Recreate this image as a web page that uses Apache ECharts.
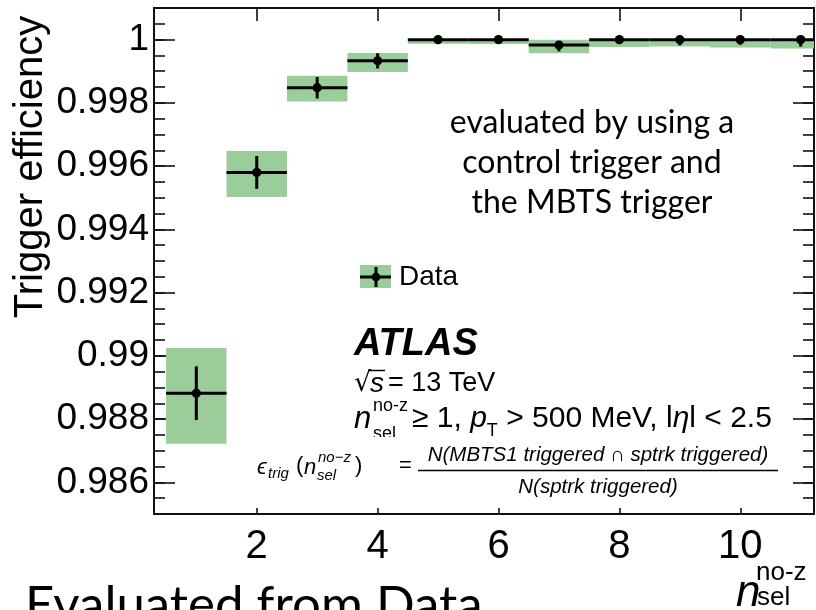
<!DOCTYPE html>
<html>
<head>
<meta charset="utf-8">
<script src="https://cdn.jsdelivr.net/npm/echarts@6/dist/echarts.min.js"></script>
<style>
  html, body { margin: 0; padding: 0; background: #fff; }
  #chart { width: 816px; height: 610px; }
</style>
</head>
<body>
<div id="chart"></div>
<script>
// Trigger efficiency vs number of selected tracks (no z requirement)
const nSel = [1, 2, 3, 4, 5, 6, 7, 8, 9, 10, 11];
const binLow = [0.5, 1.5, 2.5, 3.5, 4.5, 5.5, 6.5, 7.5, 8.5, 9.5, 10.5];
const binHigh = [1.5, 2.5, 3.5, 4.5, 5.5, 6.5, 7.5, 8.5, 9.5, 10.5, 11.5];
const efficiency = [0.98882, 0.99580, 0.99848, 0.99933, 1.00000, 1.00000, 0.99983, 1.00000, 1.00000, 1.00000, 1.00000];
const statErrDown = [0.00085, 0.00052, 0.00034, 0.00024, 0.00003, 0.00003, 0.00020, 0.00012, 0.00018, 0.00016, 0.00022];
const statErrUp = [0.00085, 0.00052, 0.00034, 0.00024, 0.00000, 0.00000, 0.00008, 0.00000, 0.00000, 0.00000, 0.00000];
const systLow = [0.98722, 0.99502, 0.99804, 0.99898, 0.99987, 0.99986, 0.99957, 0.99977, 0.99978, 0.99975, 0.99972];
const systHigh = [0.99025, 0.99648, 0.998855, 0.99958, 1.00002, 1.00002, 1.00000, 1.00001, 1.00001, 1.00001, 1.00001];

const xMajorTicks = [2, 4, 6, 8, 10];
const yMajorTicks = [0.986, 0.988, 0.99, 0.992, 0.994, 0.996, 0.998, 1];
const yMinorTicks = [];
for (let k = 0; k <= 31; k++) yMinorTicks.push(+(0.985 + k * 0.0005).toFixed(4));

const GREEN = '#9acd9a';
const BLACK = '#000';
const SANS = '"Liberation Sans", Arial, sans-serif';
const HUMANIST = 'Lato, "Open Sans", sans-serif';

const chart = echarts.init(document.getElementById('chart'), null, { renderer: 'canvas' });

const frameLine = { show: true, lineStyle: { color: '#111', width: 2 } };

function yAxisDef(position, ticks, len, labels) {
  return {
    type: 'value', position: position, min: 0.985, max: 1.001,
    axisLine: frameLine,
    splitLine: { show: false },
    axisTick: { show: true, inside: true, length: len, customValues: ticks, lineStyle: { color: '#111', width: 1.6 } },
    axisLabel: labels ? {
      show: true, customValues: yMajorTicks, margin: 5, color: BLACK,
      fontFamily: SANS, fontSize: 37,
      formatter: v => String(+(+v).toFixed(3))
    } : { show: false }
  };
}

function xAxisDef(position, len, labels) {
  return {
    type: 'value', position: position, min: 0.3, max: 11.22,
    axisLine: frameLine,
    splitLine: { show: false },
    axisTick: { show: true, inside: true, length: len, customValues: xMajorTicks, lineStyle: { color: '#111', width: 1.6 } },
    axisLabel: labels ? {
      show: true, customValues: xMajorTicks, margin: 13, color: BLACK,
      fontFamily: SANS, fontSize: 40
    } : { show: false }
  };
}

const boxData = nSel.map((x, i) => [binLow[i], binHigh[i], systLow[i], systHigh[i]]);
const pointData = nSel.map((x, i) => [x, efficiency[i], binLow[i], binHigh[i], statErrDown[i], statErrUp[i]]);

function renderBox(params, api) {
  const cs = params.coordSys;
  const p0 = api.coord([api.value(0), api.value(3)]);
  const p1 = api.coord([api.value(1), api.value(2)]);
  const x0 = Math.max(p0[0], cs.x), x1 = Math.min(p1[0], cs.x + cs.width);
  return {
    type: 'rect',
    shape: { x: x0, y: p0[1], width: x1 - x0, height: p1[1] - p0[1] },
    style: { fill: GREEN }
  };
}

function renderPoint(params, api) {
  const cs = params.coordSys;
  const x = api.value(0), y = api.value(1);
  const c = api.coord([x, y]);
  const l = api.coord([api.value(2), y]);
  const r = api.coord([api.value(3), y]);
  const lo = api.coord([x, y - api.value(4)]);
  const hi = api.coord([x, y + api.value(5)]);
  const lineStyle = { stroke: BLACK, lineWidth: 3 };
  return {
    type: 'group',
    children: [
      { type: 'line', shape: { x1: Math.max(l[0], cs.x), y1: c[1], x2: Math.min(r[0], cs.x + cs.width), y2: c[1] }, style: lineStyle },
      { type: 'line', shape: { x1: c[0], y1: lo[1], x2: c[0], y2: hi[1] }, style: lineStyle },
      { type: 'circle', shape: { cx: c[0], cy: c[1], r: 4.6 }, style: { fill: BLACK } }
    ]
  };
}

const txt = (x, y, text, font, extra, z) => ({
  type: 'text', x: x, y: y, z: z || 20,
  style: Object.assign({ text: text, font: font, fill: BLACK, textAlign: 'left', textVerticalAlign: 'middle' }, extra || {})
});

const graphics = [
  // y axis title
  { type: 'text', x: 31, y: 167, rotation: Math.PI / 2, z: 20,
    style: { text: 'Trigger efficiency', font: '40px ' + SANS, fill: BLACK, textAlign: 'center', textVerticalAlign: 'middle' } },

  // legend
  { type: 'rect', z: 20, shape: { x: 360, y: 265, width: 31, height: 23 }, style: { fill: GREEN } },
  { type: 'line', z: 21, shape: { x1: 360, y1: 277, x2: 391, y2: 277 }, style: { stroke: BLACK, lineWidth: 3 } },
  { type: 'line', z: 21, shape: { x1: 376, y1: 267, x2: 376, y2: 287 }, style: { stroke: BLACK, lineWidth: 3 } },
  { type: 'circle', z: 21, shape: { cx: 376, cy: 277, r: 4.4 }, style: { fill: BLACK } },
  txt(399, 277, 'Data', '28px ' + SANS),

  // annotation on the method
  txt(592, 123, 'evaluated by using a', '32px ' + HUMANIST, { textAlign: 'center' }),
  txt(592, 163, 'control trigger and', '32px ' + HUMANIST, { textAlign: 'center' }),
  txt(592, 203, 'the MBTS trigger', '32px ' + HUMANIST, { textAlign: 'center' }),

  // ATLAS label block
  txt(354, 345, 'ATLAS', 'italic bold 38px ' + SANS),
  txt(354, 384, '\u221A', '27px "DejaVu Sans", sans-serif'),
  txt(370, 384, 's', 'italic 28px ' + SANS),
  { type: 'line', z: 20, shape: { x1: 368, y1: 370.5, x2: 385, y2: 370.5 }, style: { stroke: BLACK, lineWidth: 1.5 } },
  txt(388, 384, '= 13 TeV', '27px ' + SANS),

  txt(354, 419, 'n', 'italic 31px ' + SANS),
  txt(373, 406, 'no-z', '18px ' + SANS),
  txt(373, 434, 'sel', '18px ' + SANS),
  {
    type: 'text', x: 412, y: 419, z: 20,
    style: {
      text: '{n|\u2265 1, }{i|p}{s|T}{n| > 500 MeV, l}{i|\u03b7}{n|l < 2.5}',
      fill: BLACK, textAlign: 'left', textVerticalAlign: 'middle',
      rich: {
        n: { font: '30px ' + SANS, lineHeight: 42, verticalAlign: 'middle' },
        i: { font: 'italic 30px ' + SANS, lineHeight: 42, verticalAlign: 'middle' },
        s: { font: '18px ' + SANS, lineHeight: 42, verticalAlign: 'bottom' }
      }
    }
  },

  // white background of the formula block
  { type: 'rect', z: 22, shape: { x: 250, y: 437, width: 532, height: 62 }, style: { fill: '#fff' } },

  // efficiency definition
  txt(257, 468, '\u03f5', 'italic 22px ' + SANS, null, 23),
  txt(268, 474, 'trig', 'italic 15px ' + SANS, null, 23),
  txt(296, 466, '(', '22px ' + SANS, null, 23),
  txt(304, 468, 'n', 'italic 22px ' + SANS, null, 23),
  txt(317, 476, 'sel', 'italic 15px ' + SANS, null, 23),
  txt(318, 458, 'no\u2212z', 'italic 15px ' + SANS, null, 23),
  txt(355, 466, ')', '22px ' + SANS, null, 23),
  txt(399, 466, '=', '22px ' + SANS, null, 23),
  txt(598, 455, 'N(MBTS1 triggered \u2229 sptrk triggered)', 'italic 20.5px ' + SANS, { textAlign: 'center' }, 23),
  { type: 'line', z: 23, shape: { x1: 418, y1: 470.5, x2: 778, y2: 470.5 }, style: { stroke: BLACK, lineWidth: 1.3 } },
  txt(598, 487, 'N(sptrk triggered)', 'italic 20.5px ' + SANS, { textAlign: 'center' }, 23),

  // x axis title
  txt(736, 594, 'n', 'italic 44px ' + SANS),
  txt(756, 573, 'no-z', '26px ' + SANS),
  txt(757, 598, 'sel', '26px ' + SANS),

  // caption
  txt(25, 580, 'Evaluated from Data', '51px ' + HUMANIST, { textVerticalAlign: 'top' })
];

chart.setOption({
  animation: false,
  backgroundColor: '#fff',
  grid: { left: 154, top: 8, width: 660, height: 506, containLabel: false },
  xAxis: [xAxisDef('bottom', 6, true), xAxisDef('top', 13, false)],
  yAxis: [
    yAxisDef('left', yMajorTicks, 21, true),
    yAxisDef('left', yMinorTicks, 11, false),
    yAxisDef('right', yMajorTicks, 21, false),
    yAxisDef('right', yMinorTicks, 11, false)
  ],
  series: [
    { type: 'custom', name: 'Data', xAxisIndex: 0, yAxisIndex: 0, renderItem: renderBox, data: boxData, clip: true, z: 2 },
    { type: 'custom', name: 'Data', xAxisIndex: 0, yAxisIndex: 0, renderItem: renderPoint, data: pointData, clip: true, z: 3 }
  ],
  graphic: graphics
});
</script>
</body>
</html>
